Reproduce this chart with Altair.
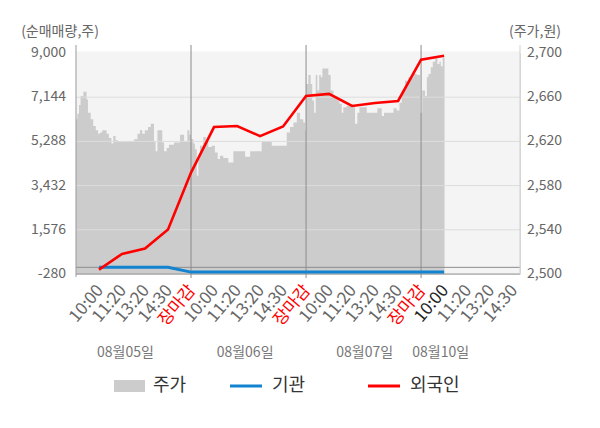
import altair as alt
import pandas as pd

FONT = "Noto Sans CJK KR"

# ---- data -------------------------------------------------------------
flow_slots = list(range(1, 17))
foreign = [-99, 564, 787, 1589, 3980, 5891, 5933, 5511, 5912,
           7198, 7283, 6776, 6903, 6987, 8717, 8886]
institution = [0, 0, 0, 0, -200, -200, -200, -200, -200,
               -200, -200, -200, -200, -200, -200, -200]

price_slots = [
    0.00, 0.06, 0.13, 0.20, 0.32, 0.46, 0.52, 0.64, 0.75, 0.86, 0.96, 1.04,
    1.14, 1.33, 1.43, 1.54, 1.62, 1.72, 1.83, 2.52, 2.67, 2.78, 2.88, 2.99,
    3.13, 3.25, 3.39, 3.46, 3.54, 3.75, 3.83, 3.94, 4.04, 4.26, 4.52, 4.70,
    4.84, 4.93,
    5.00, 5.10, 5.17, 5.25, 5.32, 5.39, 5.53, 5.64, 5.75, 5.90, 6.04, 6.16,
    6.26, 6.40, 6.62, 6.84, 7.35, 7.57, 8.07, 8.51, 9.16, 9.30, 9.45, 9.60,
    9.74, 9.88, 9.96,
    10.00, 10.10, 10.20, 10.27, 10.35, 10.42, 10.49, 10.57, 10.64, 10.71,
    10.97, 11.07, 11.19, 11.36, 11.45, 11.55, 11.62, 11.77, 12.03, 12.13,
    12.23, 12.32, 12.64, 13.10, 13.29, 13.39, 13.80, 13.94, 14.06, 14.16,
    14.30, 14.45, 14.67, 14.81, 14.96,
    15.05, 15.17, 15.25, 15.32, 15.42, 15.51, 15.61, 15.71, 15.80, 15.86,
    15.94, 16.02,
]
prices = [
    2640, 2645, 2653, 2661, 2665, 2658, 2646, 2640, 2634, 2630, 2627, 2628,
    2630, 2627, 2623, 2618, 2625, 2621, 2620, 2622, 2627, 2630, 2627, 2630,
    2633, 2636, 2620, 2611, 2630, 2619, 2611, 2614, 2617, 2619, 2626, 2620,
    2630, 2626,
    2622, 2618, 2613, 2589, 2604, 2616, 2624, 2621, 2615, 2616, 2610, 2604,
    2607, 2605, 2601, 2611, 2606, 2611, 2620, 2616, 2628, 2633, 2637, 2646,
    2640, 2637, 2630,
    2672, 2680, 2672, 2657, 2646, 2680, 2666, 2680, 2678, 2686,
    2680, 2666, 2661, 2657, 2654, 2646, 2651, 2652, 2651, 2636,
    2646, 2651, 2646, 2650, 2643, 2646, 2650, 2648, 2655, 2666,
    2675, 2678, 2681, 2680, 2646,
    2666, 2661, 2678, 2681, 2687, 2692, 2695, 2690, 2692, 2688,
    2696, 2696,
]

tick_slots = list(range(1, 20))
tick_labels = (["10:00", "11:20", "13:20", "14:30", "장마감"] * 3
               + ["10:00", "11:20", "13:20", "14:30"])
tick_colors = ["#ff0000" if t == "장마감" else "#666666" for t in tick_labels]
tick_colors[15] = "#222222"

day_labels = ["08월05일", "08월06일", "08월07일", "08월10일"]
day_label_slots = [2.15, 7.35, 12.55, 15.85]
day_bounds = [5, 10, 15]

left_ticks = [-280, 1576, 3432, 5288, 7144, 9000]
right_ticks = [2500, 2540, 2580, 2620, 2660, 2700]

# price (right axis) -> left-axis units, both axes share their gridlines
L0, L1 = left_ticks[0], left_ticks[-1]
R0, R1 = right_ticks[0], right_ticks[-1]
to_left = f"{L0} + (datum.p - {R0}) * {(L1 - L0) / (R1 - R0)}"

# ---- frames -----------------------------------------------------------
price_df = pd.DataFrame({"slot": price_slots, "p": prices})
flow_df = pd.DataFrame({"slot": flow_slots, "foreign": foreign,
                        "inst": institution})
tick_df = pd.DataFrame({"slot": tick_slots, "label": tick_labels,
                        "color": tick_colors})
day_df = pd.DataFrame({"slot": day_label_slots, "label": day_labels})
bound_df = pd.DataFrame({"b": day_bounds})
grid_df = pd.DataFrame({"v": left_ticks[1:-1]})
base_df = pd.DataFrame({"v": [left_ticks[0]]})
zero_df = pd.DataFrame({"v": [0]})
lt_df = pd.DataFrame({"v": left_ticks})
rt_df = pd.DataFrame({"p": right_ticks})
one = pd.DataFrame({"k": [0]})

W, H = 444, 221
xs = alt.Scale(domain=[0, 19.3], nice=False, zero=False)
yl = alt.Scale(domain=[L0, L1], nice=False, zero=False)

bg = alt.Chart(one).mark_rect(color="#f4f4f4").encode(
    x=alt.value(0), x2=alt.value(W), y=alt.value(-1.5), y2=alt.value(H))

area = alt.Chart(price_df).transform_calculate(yv=to_left).mark_area(
    interpolate="step-after", color="#cccccc"
).encode(
    x=alt.X("slot:Q", scale=xs, axis=None),
    y=alt.Y("yv:Q", scale=yl, axis=None),
    y2=alt.datum(L0),
)

grid = alt.Chart(grid_df).mark_rule(color="#dddddd", strokeWidth=1).encode(
    y=alt.Y("v:Q", scale=yl, axis=None))
base_line = alt.Chart(base_df).mark_rule(color="#999999", strokeWidth=1).encode(
    y=alt.Y("v:Q", scale=yl, axis=None))
zero_line = alt.Chart(zero_df).mark_rule(color="#8c8c8c", strokeWidth=1).encode(
    y=alt.Y("v:Q", scale=yl, axis=None))
bounds = alt.Chart(bound_df).mark_rule(color="#8c8c8c", strokeWidth=1).encode(
    x=alt.X("b:Q", scale=xs, axis=None),
    y=alt.value(-8), y2=alt.value(H + 4))
left_edge = alt.Chart(one).mark_rule(color="#999999", strokeWidth=1).encode(
    x=alt.value(0), y=alt.value(-8), y2=alt.value(H + 3))
right_edge = alt.Chart(one).mark_rule(color="#d0d0d0", strokeWidth=1).encode(
    x=alt.value(W), y=alt.value(-8), y2=alt.value(H))

# left (net volume) axis labels and title
left_labels = alt.Chart(lt_df).transform_calculate(
    label="(datum.v < 0 ? '-' : '') + format(abs(datum.v), ',')"
).mark_text(align="right", baseline="middle", fontSize=14, font=FONT,
            color="#666666").encode(
    x=alt.value(-10),
    y=alt.Y("v:Q", scale=yl, axis=None),
    text="label:N",
)
left_title = alt.Chart(one).mark_text(
    text="(순매매량,주)", align="center", baseline="middle", fontSize=14,
    font=FONT, color="#666666").encode(x=alt.value(-16), y=alt.value(-21))

# right (price) axis labels and title
right_labels = alt.Chart(rt_df).transform_calculate(
    yv=to_left, label="format(datum.p, ',')"
).mark_text(align="left", baseline="middle", fontSize=14, font=FONT,
            color="#666666").encode(
    x=alt.value(W + 7),
    y=alt.Y("yv:Q", scale=yl, axis=None),
    text="label:N",
)
right_title = alt.Chart(one).mark_text(
    text="(주가,원)", align="center", baseline="middle", fontSize=14,
    font=FONT, color="#666666").encode(x=alt.value(W + 15), y=alt.value(-21))

inst_line = alt.Chart(flow_df).mark_line(color="#1183d0", strokeWidth=3).encode(
    x=alt.X("slot:Q", scale=xs, axis=None),
    y=alt.Y("inst:Q", scale=yl, axis=None))
foreign_line = alt.Chart(flow_df).mark_line(color="#ff0000", strokeWidth=2.6).encode(
    x=alt.X("slot:Q", scale=xs, axis=None),
    y=alt.Y("foreign:Q", scale=yl, axis=None))

tick_text = alt.Chart(tick_df).mark_text(
    angle=310, align="right", baseline="middle", fontSize=17, font=FONT, dx=2
).encode(
    x=alt.X("slot:Q", scale=xs, axis=None),
    y=alt.value(236),
    text="label:N",
    color=alt.Color("color:N", scale=None),
)
day_text = alt.Chart(day_df).mark_text(
    align="center", baseline="middle", fontSize=14, font=FONT, color="#777777"
).encode(
    x=alt.X("slot:Q", scale=xs, axis=None),
    y=alt.value(300),
    text="label:N",
)

# ---- legend -----------------------------------------------------------
LY = 333
leg = [
    alt.Chart(one).mark_rect(color="#cccccc").encode(
        x=alt.value(38), x2=alt.value(69), y=alt.value(LY - 6), y2=alt.value(LY + 6)),
    alt.Chart(one).mark_text(text="주가", align="left", baseline="middle",
                             fontSize=18, font=FONT, color="#333333").encode(
        x=alt.value(77), y=alt.value(LY)),
    alt.Chart(one).mark_rule(color="#1183d0", strokeWidth=3).encode(
        x=alt.value(154), x2=alt.value(186), y=alt.value(LY)),
    alt.Chart(one).mark_text(text="기관", align="left", baseline="middle",
                             fontSize=18, font=FONT, color="#333333").encode(
        x=alt.value(196), y=alt.value(LY)),
    alt.Chart(one).mark_rule(color="#ff0000", strokeWidth=3).encode(
        x=alt.value(292), x2=alt.value(324), y=alt.value(LY)),
    alt.Chart(one).mark_text(text="외국인", align="left", baseline="middle",
                             fontSize=18, font=FONT, color="#333333").encode(
        x=alt.value(334), y=alt.value(LY)),
]

chart = alt.layer(
    bg, area, grid, base_line, zero_line, bounds, left_edge, right_edge,
    left_labels, left_title, right_labels, right_title,
    inst_line, foreign_line, tick_text, day_text, *leg
).properties(
    width=W, height=H,
    padding={"left": 68, "top": 45, "right": 72, "bottom": 140},
    autosize=alt.AutoSizeParams(type="none"),
).configure_view(stroke=None).configure(font=FONT)

chart.save("out.html", embed_options={"renderer": "svg", "actions": False})
